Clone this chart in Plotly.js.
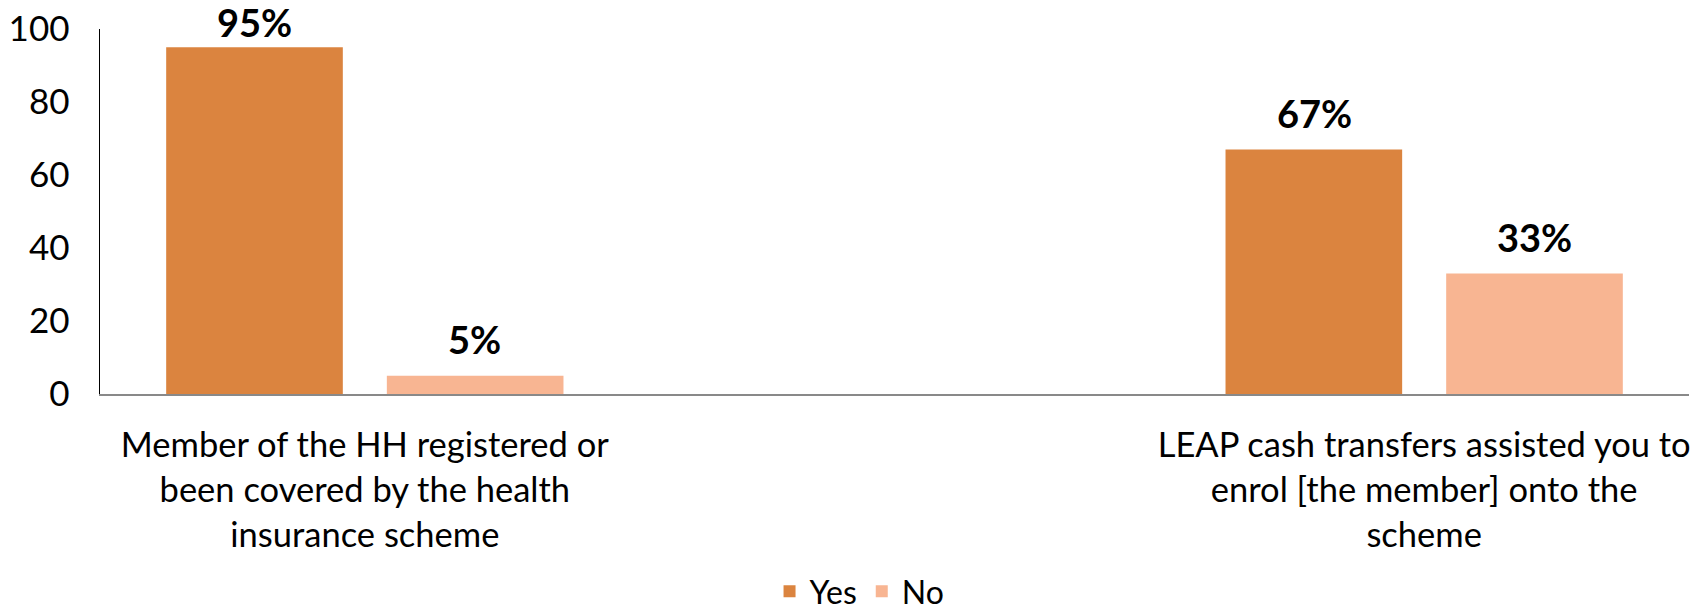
<!DOCTYPE html>
<html>
<head>
<meta charset="utf-8">
<script src="https://cdn.plot.ly/plotly-3.0.1.min.js"></script>
<style>html,body{margin:0;padding:0;background:#fff;}</style>
</head>
<body>
<div id="chart" style="width:1705px;height:616px;"></div>
<script>
const categories = [
  "Member of the HH registered or<br>been covered by the health<br>insurance scheme",
  "LEAP cash transfers assisted you to<br>enrol [the member] onto the<br>scheme"
];
const yesValues = [95, 67];
const noValues = [5, 33];
const yesLabels = ["95%", "67%"];
const noLabels = ["5%", "33%"];
const yTicks = [0, 20, 40, 60, 80, 100];

const FONT = "Lato, 'Open Sans', sans-serif";
const labelFont = {family: FONT, size: 38, color: "#000000", weight: "bold"};

// layout geometry (style, not data)
const W = 1705, H = 616;
const M = {l: 100, r: 16, t: 29, b: 222};
const PLOT_H = H - M.t - M.b;
const HALF_STEP = 110;      // px from category centre to each bar centre
const LABEL_GAP = 11.5;     // px between bar top and label box
const LABEL_BOX = 47;       // approx label box height in px

// keep labels inside the figure (like the original chart does)
function labelShift(v) {
  const barTopPx = M.t + (1 - v / 100) * PLOT_H;
  return Math.max(0, Math.min(LABEL_GAP, barTopPx - LABEL_BOX));
}

const traces = [
  {
    type: "bar", name: "Yes", x: categories, y: yesValues,
    marker: {color: "#DB843F"}, hoverinfo: "skip"
  },
  {
    type: "bar", name: "No", x: categories, y: noValues,
    marker: {color: "#F8B592"}, hoverinfo: "skip"
  }
];

const annotations = [];
categories.forEach((c, i) => {
  annotations.push({x: c, y: yesValues[i], text: yesLabels[i], xref: "x", yref: "y",
    showarrow: false, xanchor: "center", yanchor: "bottom",
    xshift: -HALF_STEP, yshift: labelShift(yesValues[i]), font: labelFont});
  annotations.push({x: c, y: noValues[i], text: noLabels[i], xref: "x", yref: "y",
    showarrow: false, xanchor: "center", yanchor: "bottom",
    xshift: HALF_STEP, yshift: labelShift(noValues[i]), font: labelFont});
});

const layout = {
  width: W, height: H,
  margin: {l: M.l, r: M.r, t: M.t, b: M.b, pad: 0},
  paper_bgcolor: "#ffffff", plot_bgcolor: "#ffffff",
  font: {family: FONT, color: "#000000"},
  barmode: "group", bargap: 0.5834, bargroupgap: 0.1995,
  showlegend: true,
  legend: {
    orientation: "h", xref: "paper", x: 0.478, xanchor: "center",
    yref: "container", y: 0.04, yanchor: "middle",
    font: {family: FONT, size: 32, color: "#000000"},
    itemclick: false, itemdoubleclick: false
  },
  annotations: annotations,
  xaxis: {
    type: "category", range: [-0.25, 1.25],
    showgrid: false, zeroline: false,
    showline: true, linecolor: "#898989", linewidth: 2,
    ticks: "", ticklabelstandoff: 20,
    tickfont: {family: FONT, size: 34.5, color: "#000000"},
    fixedrange: true
  },
  yaxis: {
    range: [0, 100], tickvals: yTicks, ticktext: yTicks.map(String),
    showgrid: false, zeroline: false,
    showline: true, linecolor: "#000000", linewidth: 1.5,
    ticks: "", ticklabelstandoff: 22,
    tickfont: {family: FONT, size: 35, color: "#000000"},
    fixedrange: true
  }
};

Plotly.newPlot("chart", traces, layout, {displayModeBar: false, staticPlot: true});
</script>
</body>
</html>
